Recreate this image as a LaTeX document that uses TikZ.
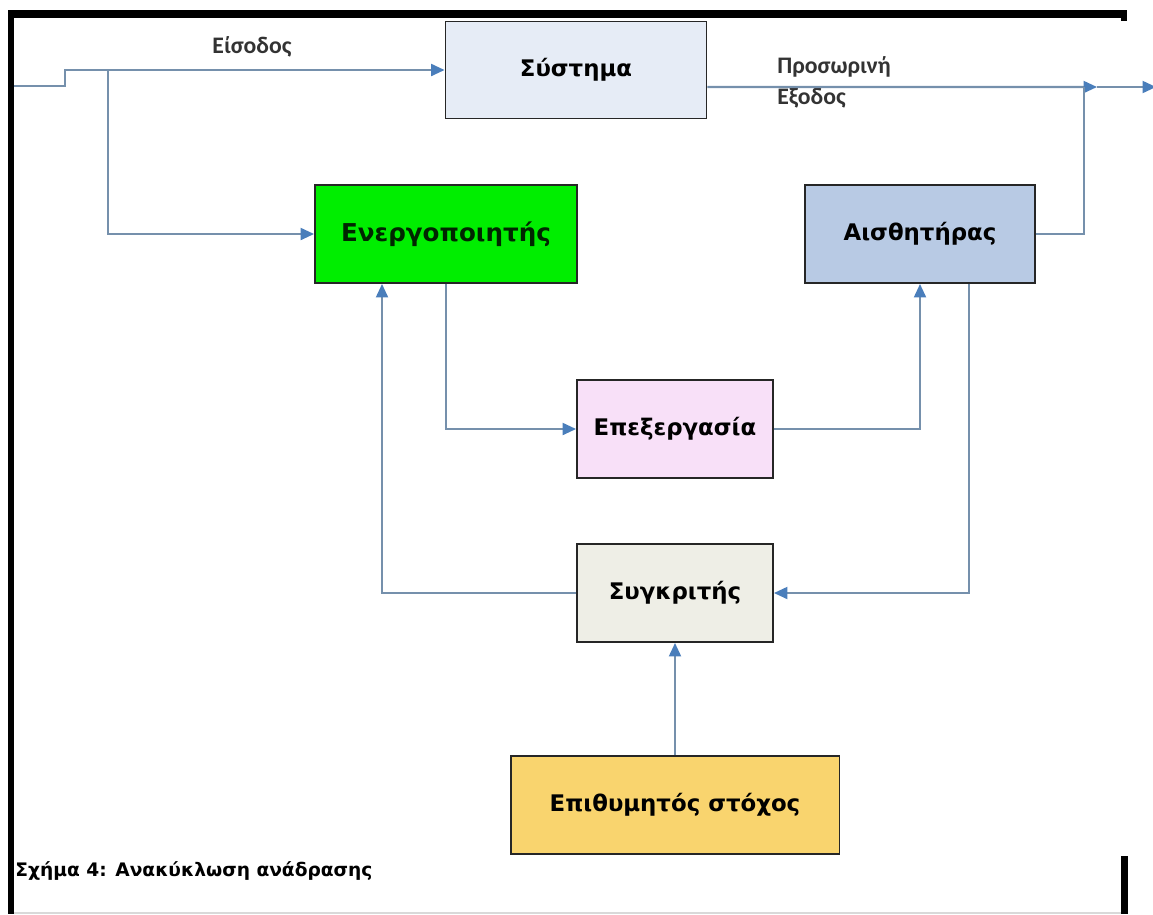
\documentclass[tikz,border=0pt]{standalone}
\usepackage{fontspec}
\setmainfont{DejaVu Sans}
\newfontfamily\lblfont{Carlito}
\usepackage{xcolor}
\usepackage{tikz}
\usetikzlibrary{arrows.meta}
\definecolor{lnblue}{HTML}{7590AC}
\definecolor{tipblue}{HTML}{4A7EBB}
\definecolor{sysfill}{HTML}{E6ECF6}
\definecolor{actfill}{HTML}{00EE00}
\definecolor{sensfill}{HTML}{B8CAE4}
\definecolor{procfill}{HTML}{F8E0F8}
\definecolor{compfill}{HTML}{EEEEE6}
\definecolor{goalfill}{HTML}{F9D46E}
\tikzset{blk/.style={rectangle,draw=black!85,line width=1.1pt,inner sep=0pt,font=\bfseries\fontsize{13}{15}\selectfont},
  ln/.style={draw=lnblue,line width=1.2pt},
  arr/.style={ln,-{Triangle[length=0.27cm,width=0.24cm,color=tipblue]}},
  lbl/.style={font=\lblfont\bfseries\fontsize{13.5}{17.5}\selectfont,text=black!80,inner sep=0pt}}

\begin{document}
\begin{tikzpicture}[x=0.02cm,y=-0.02cm]
    \useasboundingbox (0,0) rectangle (1153,914);
    % frame
    \fill[black] (8,10) rectangle (1127,18);
    \fill[black] (1121,10) rectangle (1127,21);
    \fill[black] (8,10) rectangle (14,914);
    \fill[black] (1121,856) rectangle (1128,914);
    \draw[black!15,line width=0.6pt] (14,913) -- (1121,913);

    \node[blk,fill=sysfill,minimum width=5.22cm,minimum height=1.94cm] (sys)at (576,70) {Σύστημα};
    \node[blk,fill=actfill,text=black!85!green,font=\bfseries\fontsize{14}{16}\selectfont,minimum width=5.24cm,minimum height=1.96cm] (act)at (446,234) {Ενεργοποιητής};
    \node[blk,fill=sensfill,minimum width=4.6cm,minimum height=1.96cm] (sens)at (920,234) {Αισθητήρας};
    \node[blk,fill=procfill,minimum width=3.92cm,minimum height=1.96cm] (proc)at (675,429) {Επεξεργασία};
    \node[blk,fill=compfill,minimum width=3.92cm,minimum height=1.96cm] (comp)at (675,593) {Συγκριτής};
    \node[blk,fill=goalfill,minimum width=6.58cm,minimum height=1.96cm] (goal)at (675,805) {Επιθυμητός στόχος};

    \node[lbl] (in)at (252,47) {Είσοδος};
    \node[lbl,align=left,anchor=west] (tmp)at (777,82) {Προσωρινή\\Εξοδος};

    \coordinate (in0) at (14,86);
    \coordinate (br) at (108,70);
    \coordinate (mrg) at (1084,87);
    \coordinate (jn) at (1097,87);
    \coordinate (out) at (1156,87);

    \draw [ln] (in0) -- (65,86) -- (65,70) -- (br);
    \draw [arr] (br) to (sys.west);
    \draw [arr] (br) |- (act.west);
    \draw [arr] ([yshift=-0.34cm]sys.east) to (jn);
    \draw [arr] (jn) to (out);
    \draw [ln] (sens.east) -| (mrg);
    \draw [arr] (act.south) |- (proc.west);
    \draw [arr] (proc.east) -| (sens.south);
    \draw [arr] ([xshift=0.98cm]sens.south) |- (comp.east);
    \draw [arr] (comp.west) -| ([xshift=-1.28cm]act.south);
    \draw [arr] (goal.north) to (comp.south);

    \node[font=\bfseries\fontsize{10.6}{12}\selectfont,anchor=base west,inner sep=0pt] (cap)at (15,876) {Σχήμα 4: Ανακύκλωση ανάδρασης};
\end{tikzpicture}
\end{document}
